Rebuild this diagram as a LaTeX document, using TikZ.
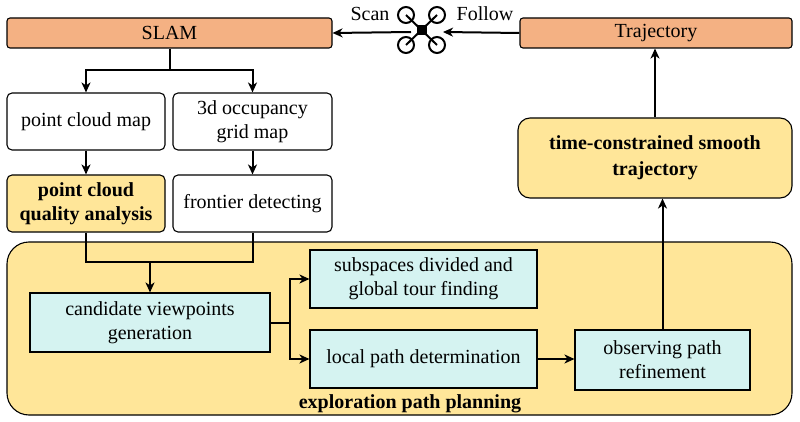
\documentclass[tikz,border=0pt]{standalone}
\usepackage{fontspec}
\setmainfont{LiberationSerif}[Extension=.ttf,UprightFont=*-Regular,BoldFont=*-Bold]
\usetikzlibrary{arrows.meta,calc}
\definecolor{orng}{HTML}{F4B183}
\definecolor{yel}{HTML}{FFE699}
\definecolor{cyn}{HTML}{D5F3F1}
\begin{document}
\begin{tikzpicture}[x=1pt,y=-1pt,
  box/.style={draw,line width=1.1pt,rounded corners=5pt,align=center,font=\fontsize{20}{24}\selectfont,inner sep=0pt},
  ar/.style={line width=2pt,-{Stealth[length=10pt,width=9pt,inset=3pt]}},
  ln/.style={line width=2pt}]
\useasboundingbox (0,0) rectangle (800,422);
\node[box,fill=yel,rounded corners=22pt,minimum width=785pt,minimum height=173pt] (big) at (399.5,328.5) {};
\node[font=\bfseries\fontsize{20}{24}\selectfont] (lbl) at (410,404) {exploration path planning};
\node[box,fill=orng,rounded corners=3pt,minimum width=325pt,minimum height=30pt] (slam) at (169.5,33) {SLAM};
\node[box,fill=orng,rounded corners=3pt,minimum width=272pt,minimum height=30pt] (traj) at (656,33) {Trajectory};
\node[box,minimum width=158pt,minimum height=57pt] (pcm) at (86,121.5) {point cloud map};
\node[box,minimum width=159pt,minimum height=57pt] (ogm) at (252.5,121.5) {3d occupancy\\grid map};
\node[box,fill=yel,minimum width=158pt,minimum height=57pt,font=\bfseries\fontsize{20}{24}\selectfont] (pqa) at (86,203.5) {point cloud\\quality analysis};
\node[box,minimum width=159pt,minimum height=57pt] (fd) at (252.5,203.5) {frontier detecting};
\node[box,fill=cyn,rounded corners=0pt,minimum width=240pt,minimum height=59pt] (cvg) at (150,322.5) {candidate viewpoints\\generation};
\node[box,fill=cyn,rounded corners=0pt,minimum width=227pt,minimum height=58pt] (sub) at (423.5,279) {subspaces divided and\\global tour finding};
\node[box,fill=cyn,rounded corners=0pt,minimum width=227pt,minimum height=58pt] (lpd) at (423.5,359) {local path determination};
\node[box,fill=cyn,rounded corners=0pt,minimum width=175pt,minimum height=60pt] (opr) at (662.5,360) {observing path\\refinement};
\node[box,fill=yel,rounded corners=12pt,minimum width=274pt,minimum height=80pt,font=\bfseries\fontsize{20}{26}\selectfont] (tcs) at (655,158) {time-constrained smooth\\trajectory};
% drone
\coordinate (dr) at (421.5,30);
\foreach \dx/\dy in {-15.5/-15,15.5/-15,-15.5/15,15.5/15}{
  \draw[line width=2pt] (dr) -- ++(\dx,\dy);
  \draw[line width=2pt] ($(dr)+(\dx,\dy)$) circle (8pt);}
\fill (dr) ++(-5,-5) rectangle ++(10,10);
\node[font=\fontsize{20}{24}\selectfont] (scan) at (370,14) {Scan};
\node[font=\fontsize{20}{24}\selectfont] (fol) at (485,14) {Follow};
\coordinate (dl) at (411,32);
\coordinate (drr) at (443,32);
\draw[ar] (dl) -- (slam.east);
\draw[ar] (traj.west) -- (drr);
% connectors
\coordinate (s1) at (170,70);
\draw[ln] (slam.south -| s1) -- (s1);
\draw[ar] (s1) -| (pcm.north);
\draw[ar] (s1) -| (ogm.north);
\draw[ar] (pcm) -- (pqa);
\draw[ar] (ogm) -- (fd);
\coordinate (j) at (150,262);
\draw[ln] (pqa.south) |- (j);
\draw[ln] (fd.south) |- (j);
\draw[ar] (j) -- (cvg.north -| j);
\coordinate (b) at (290,322.5);
\draw[ln] (cvg.east) -- (b);
\draw[ar] (b) |- (sub.west);
\draw[ar] (b) |- (lpd.west);
\draw[ar] (lpd.east) -- (opr.west |- lpd.east);
\draw[ar] (opr.north) -- (opr.north |- tcs.south);
\draw[ar] (tcs.north) -- (tcs.north |- traj.south);
\end{tikzpicture}
\end{document}
